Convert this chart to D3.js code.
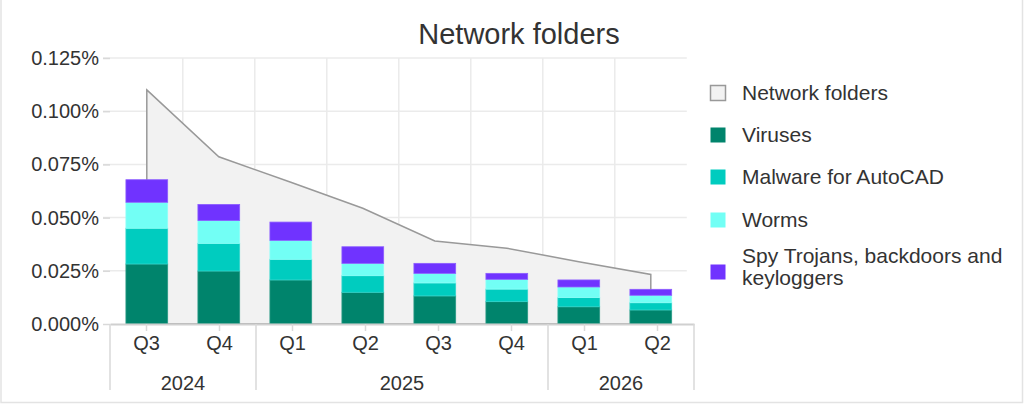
<!DOCTYPE html>
<html>
<head>
<meta charset="utf-8">
<script src="https://cdn.jsdelivr.net/npm/d3@7"></script>
<style>
  body { margin: 0; background: #fff; }
  svg { display: block; font-family: "Liberation Sans", Arial, sans-serif; }
</style>
</head>
<body>
<svg></svg>
<script>
const SVG_WIDTH = 1024;
const SVG_HEIGHT = 404;
const PLOT_LEFT = 110;
const PLOT_TOP = 58;
const PLOT_BOTTOM = 324;
const BAR_RIGHT = 686.8;
const AXIS_RIGHT = 694;
const TEXT_COLOR = "#333";

// Data (percent of users)
const quarters = ["Q3", "Q4", "Q1", "Q2", "Q3", "Q4", "Q1", "Q2"];
const years = ["2024", "2025", "2026"];
const yearSpan = [2, 4, 2];
const yTicks = [0, 0.025, 0.05, 0.075, 0.1, 0.125];

const networkFolders = [0.110, 0.0786, 0.0666, 0.0544, 0.0390, 0.0356, 0.0293, 0.0233];
const viruses = [0.0282, 0.0249, 0.0207, 0.0149, 0.0132, 0.0105, 0.0081, 0.0066];
const malwareAutoCAD = [0.0168, 0.0130, 0.0097, 0.0078, 0.0061, 0.0059, 0.0043, 0.0034];
const worms = [0.0122, 0.0107, 0.0089, 0.0058, 0.0045, 0.0046, 0.0050, 0.0035];
const spyTrojans = [0.0106, 0.0076, 0.0086, 0.0078, 0.0047, 0.0028, 0.0033, 0.0028];

const seriesNames = ["Viruses", "Malware for AutoCAD", "Worms", "Spy Trojans, backdoors and keyloggers"];
const seriesValues = [viruses, malwareAutoCAD, worms, spyTrojans];
const seriesColors = ["#00846c", "#00ccbf", "#72fff5", "#7033ff"];
const seriesEdges = ["#2a9a86", "#33d6cc", "#8efff8", "#8c5cff"];

const svg = d3.select("svg").attr("width", SVG_WIDTH).attr("height", SVG_HEIGHT);

// frame (left, right, bottom)
svg.append("path")
  .attr("d", "M1,0 V402.5 H1022.5 V0")
  .attr("fill", "none")
  .attr("stroke", "#e3e3e3")
  .attr("stroke-width", 1.5);

const idx = d3.range(quarters.length);
const xBar = d3.scaleBand().domain(idx).range([PLOT_LEFT + 0.8, BAR_RIGHT]);
const xAxisScale = d3.scaleBand().domain(idx).range([PLOT_LEFT, AXIS_RIGHT]);
const yScale = d3.scaleLinear().domain([0, 0.125]).range([PLOT_BOTTOM, PLOT_TOP]);

// Title
svg.append("text")
  .attr("x", 519).attr("y", 44)
  .attr("text-anchor", "middle")
  .attr("font-size", 29)
  .attr("fill", TEXT_COLOR)
  .text("Network folders");

// Grid
const grid = svg.append("g").attr("stroke", "#ebebeb").attr("stroke-width", 1.5);
grid.selectAll("line.h")
  .data(yTicks.slice(1))
  .enter().append("line")
  .attr("x1", PLOT_LEFT - 7).attr("x2", BAR_RIGHT)
  .attr("y1", d => yScale(d)).attr("y2", d => yScale(d));
grid.selectAll("line.v")
  .data(idx.slice(1))
  .enter().append("line")
  .attr("x1", d => xBar(d)).attr("x2", d => xBar(d))
  .attr("y1", PLOT_TOP).attr("y2", PLOT_BOTTOM);

// Y axis
const yAxis = d3.axisLeft(yScale)
  .tickValues(yTicks)
  .tickFormat(d => d3.format(".3f")(d) + "%")
  .tickSize(7)
  .tickPadding(4);
const yAxisArea = svg.append("g")
  .attr("transform", "translate(" + PLOT_LEFT + ",0)")
  .call(yAxis);
yAxisArea.select(".domain").remove();
yAxisArea.selectAll(".tick line").attr("stroke", "#d9d9d9").attr("stroke-width", 1.5);
yAxisArea.selectAll(".tick text")
  .attr("font-size", 20).attr("fill", TEXT_COLOR)
  .attr("font-family", "Liberation Sans, Arial, sans-serif");

// Network folders area
const area = d3.area()
  .x(d => xBar(d) + xBar.bandwidth() / 2)
  .y0(PLOT_BOTTOM)
  .y1(d => yScale(networkFolders[d]));
svg.append("path")
  .datum(idx)
  .attr("d", d => area(d) + "Z")
  .attr("fill", "#f2f2f2")
  .attr("stroke", "#999")
  .attr("stroke-width", 1.5);

// Stacked bars
const barWidth = xBar.bandwidth() * 0.58;
const stackRows = idx.map(i => {
  const row = { i: i };
  seriesNames.forEach((name, s) => { row[name] = seriesValues[s][i]; });
  return row;
});
const stacked = d3.stack().keys(seriesNames)(stackRows);

const bars = svg.append("g");
stacked.forEach((layer, s) => {
  bars.append("g")
    .selectAll("rect")
    .data(layer)
    .enter().append("rect")
    .attr("x", d => xBar(d.data.i) + (xBar.bandwidth() - barWidth) / 2)
    .attr("y", d => yScale(d[1]))
    .attr("width", barWidth)
    .attr("height", d => yScale(d[0]) - yScale(d[1]))
    .attr("fill", seriesColors[s])
    .attr("stroke", seriesEdges[s])
    .attr("stroke-width", 0.8);
});

// X axis (quarters)
const xAxis = d3.axisBottom(xAxisScale)
  .tickFormat(i => quarters[i])
  .tickSize(7)
  .tickSizeOuter(0)
  .tickPadding(5);
const xAxisArea = svg.append("g")
  .attr("transform", "translate(0," + PLOT_BOTTOM + ")")
  .call(xAxis);
xAxisArea.select(".domain").attr("stroke", "#d0d0d0").attr("stroke-width", 2);
xAxisArea.selectAll(".tick line").attr("stroke", "#d9d9d9").attr("stroke-width", 1.5);
xAxisArea.selectAll(".tick text")
  .attr("font-size", 20).attr("fill", TEXT_COLOR)
  .attr("font-family", "Liberation Sans, Arial, sans-serif");

// Year groups
const yearStarts = yearSpan.map((n, k) => d3.sum(yearSpan.slice(0, k)));
const bounds = yearStarts.map(s => xAxisScale(s)).concat([AXIS_RIGHT]);
svg.append("g").selectAll("line")
  .data(bounds)
  .enter().append("line")
  .attr("x1", d => d).attr("x2", d => d)
  .attr("y1", PLOT_BOTTOM).attr("y2", 390)
  .attr("stroke", "#d9d9d9").attr("stroke-width", 1.5);
svg.append("g").selectAll("text")
  .data(years)
  .enter().append("text")
  .attr("x", (d, k) => (bounds[k] + bounds[k + 1]) / 2)
  .attr("y", 390)
  .attr("text-anchor", "middle")
  .attr("font-size", 20)
  .attr("fill", TEXT_COLOR)
  .text(d => d);

// Legend
const legendItems = [
  { label: ["Network folders"], fill: "#f2f2f2", stroke: "#999", y: 85 },
  { label: ["Viruses"], fill: seriesColors[0], stroke: "none", y: 127 },
  { label: ["Malware for AutoCAD"], fill: seriesColors[1], stroke: "none", y: 169 },
  { label: ["Worms"], fill: seriesColors[2], stroke: "none", y: 212 },
  { label: ["Spy Trojans, backdoors and", "keyloggers"], fill: seriesColors[3], stroke: "none", y: 264 }
];
const legend = svg.append("g");
legendItems.forEach(item => {
  legend.append("rect")
    .attr("x", 710.5).attr("y", item.y + 0.5)
    .attr("width", 15).attr("height", 15)
    .attr("fill", item.fill)
    .attr("stroke", item.stroke)
    .attr("stroke-width", 1.5);
  const t = legend.append("text")
    .attr("x", 742)
    .attr("font-size", 21)
    .attr("fill", TEXT_COLOR);
  const first = item.label.length > 1 ? item.y - 1 : item.y + 15;
  item.label.forEach((line, k) => {
    t.append("tspan").attr("x", 742).attr("y", first + k * 22).text(line);
  });
});
</script>
</body>
</html>
